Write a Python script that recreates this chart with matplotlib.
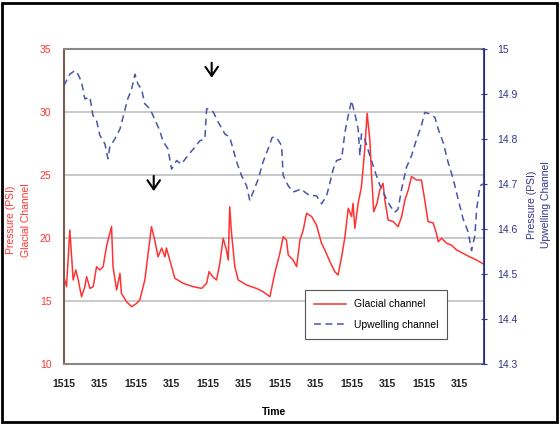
import matplotlib.pyplot as plt
from matplotlib.patches import Rectangle

plt.rcParams['font.family'] = ['Liberation Sans', 'DejaVu Sans']

# time in hours from the first 15:15 reading
glacial_t = [0, 0.9, 2.0, 2.6, 3.1, 4.0, 4.8, 5.9, 7.0, 7.6, 8.7, 9.8, 10.9, 12.0, 13.1,
             14.2, 15.3, 15.9, 16.4, 17.6, 18.7, 19.2, 20.9, 22.6, 24.2, 25.3, 27.0, 28.1,
             29.2, 30.3, 31.4, 32.6, 33.7, 34.2, 35.3, 37.0, 39.8, 43.1, 45.9, 47.6, 48.4,
             49.6, 50.9, 52.0, 53.1, 54.2, 54.8, 55.3, 55.9, 57.0, 58.1, 60.9, 64.2, 66.4,
             68.7, 70.3, 72.0, 73.1, 74.2, 74.8, 76.4, 77.6, 78.7, 79.8, 80.9, 82.6, 84.2,
             85.9, 87.0, 88.7, 90.3, 91.4, 92.6, 93.7, 94.8, 95.9, 96.4, 97.0, 98.1, 99.2,
             100.3, 101.1, 102.0, 102.6, 103.3, 104.4, 105.3, 106.4, 107.0, 108.1, 109.8,
             111.4, 112.6, 113.7, 114.8, 115.9, 117.6, 119.2, 120.3, 121.4, 123.1, 124.2,
             124.8, 125.9, 127.6, 129.2, 130.9, 133.1, 135.3, 137.6, 139.8]
glacial_psi = [16.93, 16.14, 20.63, 18.5, 16.67, 17.46, 16.67, 15.34, 16.14, 16.93, 16.0,
               16.14, 17.72, 17.46, 17.72, 19.31, 20.37, 20.9, 17.72, 15.87, 17.2, 15.6,
               14.94, 14.55, 14.8, 15.08, 16.67, 18.78, 20.9, 19.84, 18.5, 19.2, 18.5, 19.2,
               18.25, 16.8, 16.4, 16.14, 16.0, 16.4, 17.33, 16.93, 16.67, 18.0, 19.98, 19.05,
               18.25, 22.48, 20.37, 17.72, 16.67, 16.27, 16.0, 15.74, 15.34, 17.2, 18.78,
               20.1, 19.84, 18.65, 18.25, 17.72, 19.84, 20.63, 21.96, 21.7, 21.03, 19.58,
               19.05, 18.12, 17.33, 17.06, 18.5, 20.1, 22.36, 21.7, 22.75, 20.77, 22.75,
               24.07, 27.0, 29.9, 27.78, 24.87, 22.09, 22.75, 23.8, 24.34, 23.02, 21.43,
               21.3, 20.9, 21.7, 23.02, 23.8, 24.87, 24.6, 24.6, 23.02, 21.3, 21.2, 20.37,
               19.7, 19.98, 19.58, 19.44, 19.05, 18.78, 18.5, 18.25, 17.94]

upwell_t = [0, 2.0, 3.7, 4.7, 5.9, 7.0, 8.7, 9.7, 10.9, 12.0, 13.7, 14.7, 15.3, 17.0, 18.7,
            20.3, 21.3, 22.6, 23.7, 24.7, 25.9, 27.0, 28.7, 30.3, 32.0, 33.0, 34.7, 35.9,
            37.6, 39.2, 41.3, 43.7, 45.3, 47.0, 47.6, 48.1, 49.8, 51.4, 53.7, 55.3, 56.4,
            57.6, 59.2, 60.9, 62.0, 63.1, 64.8, 66.4, 68.1, 69.4, 70.3, 71.4, 72.6, 73.1,
            74.8, 76.4, 77.6, 79.2, 80.3, 82.0, 84.2, 85.9, 87.6, 88.7, 89.8, 90.9, 92.6,
            93.7, 94.8, 95.9, 97.0, 98.1, 98.7, 99.2, 100.3, 102.0, 103.7, 105.3, 107.0,
            108.7, 110.3, 111.4, 112.6, 114.2, 115.9, 117.6, 119.2, 120.3, 122.0, 123.7,
            124.8, 126.4, 128.1, 129.8, 131.4, 133.1, 134.8, 135.9, 137.0, 137.6, 138.7, 139.8]
upwell_psi = [14.918, 14.944, 14.952, 14.944, 14.927, 14.889, 14.893, 14.852, 14.841,
              14.808, 14.789, 14.756, 14.782, 14.8, 14.822, 14.863, 14.889, 14.911, 14.944,
              14.922, 14.911, 14.878, 14.867, 14.844, 14.818, 14.796, 14.778, 14.733,
              14.752, 14.744, 14.763, 14.782, 14.796, 14.8, 14.867, 14.867, 14.86, 14.838,
              14.811, 14.804, 14.778, 14.749, 14.719, 14.696, 14.663, 14.682, 14.711,
              14.749, 14.778, 14.803, 14.805, 14.798, 14.785, 14.719, 14.696, 14.682,
              14.685, 14.689, 14.682, 14.674, 14.674, 14.656, 14.674, 14.703, 14.733,
              14.752, 14.756, 14.815, 14.852, 14.885, 14.856, 14.822, 14.763, 14.811, 14.8,
              14.763, 14.728, 14.698, 14.674, 14.652, 14.637, 14.644, 14.689, 14.737,
              14.763, 14.8, 14.83, 14.859, 14.856, 14.848, 14.822, 14.793, 14.748, 14.711,
              14.667, 14.622, 14.593, 14.552, 14.585, 14.644, 14.696, 14.7]

tick_hours = list(range(0, 133, 12))
tick_labels = ["1515", "315"] * 6

red = "#ff3333"
blue = "#4a55a8"
navy = "#333388"

fig = plt.figure(figsize=(5.6, 4.24), dpi=100)
fig.patches.append(Rectangle((0.004, 0.004), 0.99, 0.99, transform=fig.transFigure,
                             fill=False, edgecolor="black", linewidth=2))
ax = fig.add_axes([0.114, 0.1415, 0.75, 0.743])
ax2 = ax.twinx()

l1, = ax.plot(glacial_t, glacial_psi, color=red, linewidth=1.1, label="Glacial channel")
l2, = ax2.plot(upwell_t, upwell_psi, color=blue, linewidth=1.1, linestyle=(0, (4.5, 3)),
               label="Upwelling channel")

ax.set_xlim(0, 140)
ax.set_ylim(10, 35)
ax2.set_ylim(14.3, 15.0)
ax.set_yticks([10, 15, 20, 25, 30, 35])
ax2.set_yticks([14.3, 14.4, 14.5, 14.6, 14.7, 14.8, 14.9, 15.0])
ax2.set_yticklabels(["14.3", "14.4", "14.5", "14.6", "14.7", "14.8", "14.9", "15"])
ax.set_xticks(tick_hours)
ax.set_xticklabels(tick_labels, fontweight="bold")

ax.yaxis.grid(True, color="#c0c0c0", linewidth=1.2)
ax.set_axisbelow(True)

ax.tick_params(axis="y", length=0, pad=9, labelsize=7.5, labelcolor=red)
ax.tick_params(axis="x", length=0, pad=11, labelsize=7.5, labelcolor="#222222")
ax2.tick_params(axis="y", direction="inout", length=5, color=navy, pad=7,
                labelsize=7.5, labelcolor=navy)

for side in ["top", "bottom"]:
    ax.spines[side].set_color("#888888")
    ax.spines[side].set_linewidth(1.5)
    ax2.spines[side].set_visible(False)
ax.spines["left"].set_color("#7a5c50")
ax.spines["left"].set_linewidth(1.5)
ax2.spines["right"].set_color(navy)
ax2.spines["right"].set_linewidth(1.3)
ax2.spines["left"].set_visible(False)

ax.set_ylabel("Pressure (PSI)\nGlacial Channel", color=red, fontsize=7.5, linespacing=1.6)
ax.yaxis.set_label_coords(-0.078, 0.457)
ax2.set_ylabel("Pressure (PSI)\nUpwelling Channel", color=navy, fontsize=7.5, linespacing=1.5)
ax2.yaxis.set_label_coords(1.103, 0.505)
ax.set_xlabel("Time", fontweight="bold", fontsize=7.5)
ax.xaxis.set_label_coords(0.5, -0.135)

# arrows marking events
arrow_spots = [(0.352, 0.965, 0.90), (0.214, 0.606, 0.54)]
for xa, y0, y1 in arrow_spots:
    ax.annotate("", xy=(xa, y1), xytext=(xa, y0), xycoords="axes fraction",
                arrowprops=dict(arrowstyle="->,head_width=0.45,head_length=0.65",
                                color="black", linewidth=1.5))

leg = ax2.legend(handles=[l1, l2], loc="lower left", bbox_to_anchor=(0.562, 0.063, 0.362, 0.162),
                 mode="expand", fontsize=7.5, fancybox=False, framealpha=1,
                 edgecolor="#555555", handlelength=3, borderpad=0.9, labelspacing=1.0)
leg.get_frame().set_linewidth(0.8)

fig.savefig("out.png", dpi=100)
